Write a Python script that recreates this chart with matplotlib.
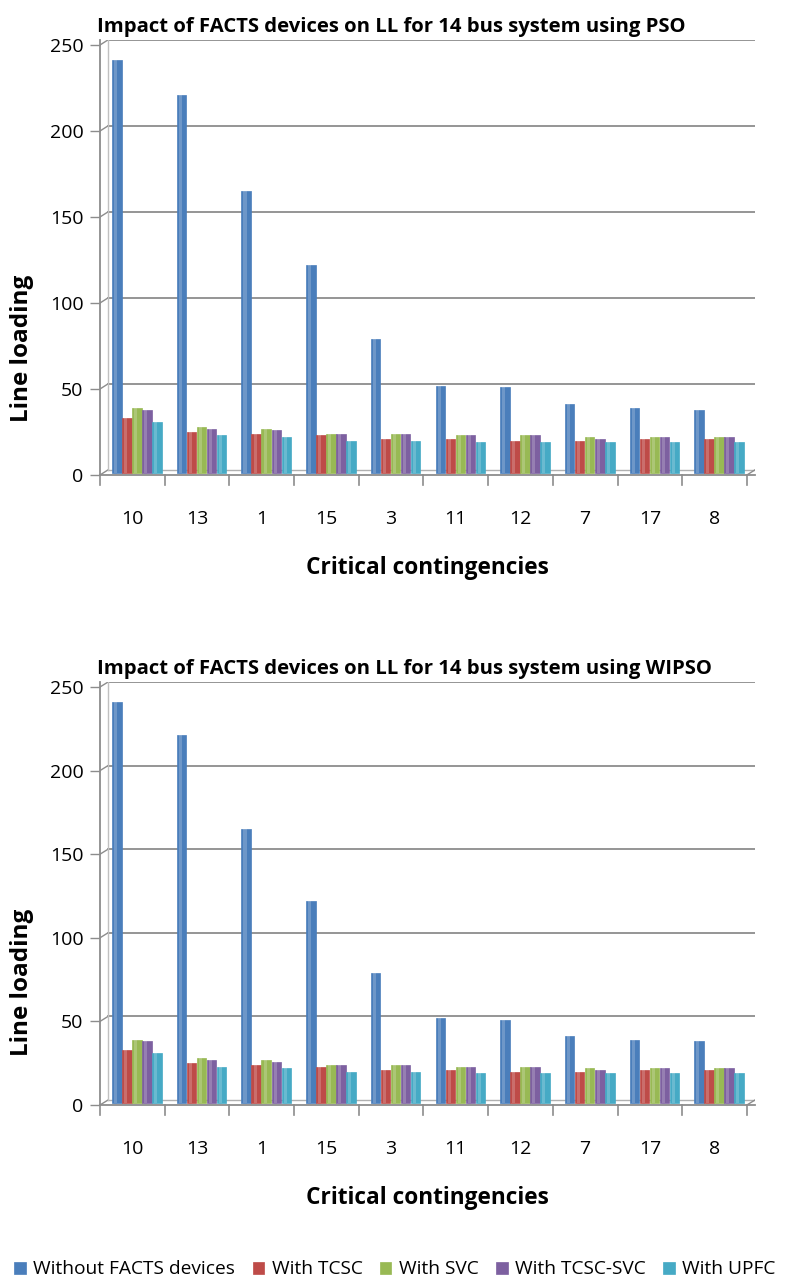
import matplotlib
matplotlib.use("Agg")
import matplotlib.pyplot as plt
import numpy as np

plt.rcParams['font.family'] = ['Open Sans', 'DejaVu Sans']

categories = ["10", "13", "1", "15", "3", "11", "12", "7", "17", "8"]
series_names = ["Without FACTS devices", "With TCSC", "With SVC", "With TCSC-SVC", "With UPFC"]
colors = ["#4a7ebb", "#be4b48", "#98b954", "#7d60a0", "#46aac5"]

# PSO
pso_without = [240, 220, 164, 121, 78, 51, 50, 40, 38, 37]
pso_tcsc = [32, 24, 23, 22, 20, 20, 19, 19, 20, 20]
pso_svc = [38, 27, 26, 23, 23, 22, 22, 21, 21, 21]
pso_tcsc_svc = [37, 26, 25, 23, 23, 22, 22, 20, 21, 21]
pso_upfc = [30, 22, 21, 19, 19, 18, 18, 18, 18, 18]

# WIPSO
wipso_without = [240, 220, 164, 121, 78, 51, 50, 40, 38, 37]
wipso_tcsc = [32, 24, 23, 22, 20, 20, 19, 19, 20, 20]
wipso_svc = [38, 27, 26, 23, 23, 22, 22, 21, 21, 21]
wipso_tcsc_svc = [37, 26, 25, 23, 23, 22, 22, 20, 21, 21]
wipso_upfc = [30, 22, 21, 19, 19, 18, 18, 18, 18, 18]

titles = ["Impact of FACTS devices on LL for 14 bus system using PSO",
          "Impact of FACTS devices on LL for 14 bus system using WIPSO"]

W, H = 790, 1288
DX, DY = 0.125, 3.0  # fake 3D back-wall offset (data units)
GRID = "#8c8c8c"


def draw_panel(ax, data, title):
    x = np.arange(len(categories))
    w = 0.155
    offs = (np.arange(5) - 2) * w + 0.07
    # back wall grid + floor
    for v in range(50, 251, 50):
        ax.plot([-0.5 + DX, 9.5 + DX], [v + DY, v + DY], color=GRID, lw=1.3, zorder=1)
        ax.plot([-0.5, -0.5 + DX], [v, v + DY], color=GRID, lw=1.0, zorder=1)
    ax.plot([-0.5 + DX, 9.5 + DX], [DY, DY], color="#b0b0b0", lw=1.0, zorder=1)
    ax.plot([-0.5, -0.5 + DX], [0, DY], color=GRID, lw=1.0, zorder=1)
    ax.plot([9.5, 9.5 + DX], [0, DY], color=GRID, lw=1.0, zorder=1)
    ax.plot([-0.5 + DX, -0.5 + DX], [DY, 250 + DY], color="#c0c0c0", lw=1.0, zorder=1)
    for vals, off, c, name in zip(data, offs, colors, series_names):
        ax.bar(x + off, vals, bottom=1.0, width=w * 0.95, color=c, edgecolor=c, linewidth=0.5,
               label=name, zorder=3)
        # lighter strip to suggest cylinder shading
        ax.bar(x + off - w * 0.12, vals, bottom=1.0, width=w * 0.3, color="white", alpha=0.2,
               linewidth=0, zorder=4)
    ax.set_xlim(-0.5, 9.5 + DX)
    ax.set_ylim(0, 250 + DY)
    ax.set_yticks(range(0, 251, 50))
    ax.set_xticks(x)
    ax.set_xticklabels(categories, fontsize=14)
    ax.tick_params(axis="y", labelsize=14, length=7, width=1.0, color=GRID, pad=5)
    ax.tick_params(axis="x", length=0, pad=25)
    for t in np.arange(-0.5, 10, 1):
        ax.plot([t, t], [0, -6], color=GRID, lw=1.2, clip_on=False, zorder=2)
    for s in ["top", "right"]:
        ax.spines[s].set_visible(False)
    for s in ["left", "bottom"]:
        ax.spines[s].set_color(GRID)
        ax.spines[s].set_linewidth(1.3)
    ax.set_ylabel("Line loading", fontsize=17.5, fontweight="bold")
    ax.yaxis.set_label_coords(-0.1, 0.29)
    ax.set_xlabel("Critical contingencies", fontsize=16.3, fontweight="bold", labelpad=20)
    ax.set_title(title, fontsize=14.6, fontweight="bold", loc="left", x=-0.005, pad=6)


def px_axes(fig, left, right, y0, y250):
    # y0: pixel row of value 0, y250: pixel row of value 250
    per = (y0 - y250) / 250.0
    top = y250 - DY * per
    return fig.add_axes([left / W, 1 - y0 / H, (right - left) / W, (y0 - top) / H])


fig = plt.figure(figsize=(7.9, 12.88), dpi=100)
ax1 = px_axes(fig, 100, 755, 475, 45)
ax2 = px_axes(fig, 100, 755, 1105, 687)

draw_panel(ax1, [pso_without, pso_tcsc, pso_svc, pso_tcsc_svc, pso_upfc], titles[0])
draw_panel(ax2, [wipso_without, wipso_tcsc, wipso_svc, wipso_tcsc_svc, wipso_upfc], titles[1])

handles, labels = ax1.get_legend_handles_labels()
fig.legend(handles, labels, loc="lower center", bbox_to_anchor=(0.5, -0.003), ncol=5,
           frameon=False, fontsize=13.8, handlelength=0.6, handleheight=0.6,
           handletextpad=0.4, columnspacing=0.9, borderpad=0.2)

fig.savefig("out.png", dpi=100)
